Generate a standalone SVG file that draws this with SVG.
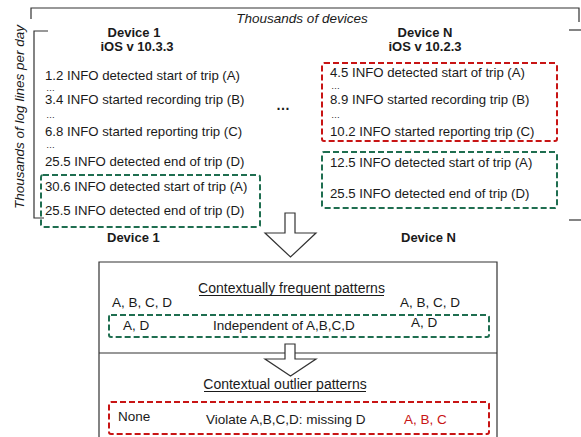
<svg xmlns="http://www.w3.org/2000/svg" width="581" height="437" viewBox="0 0 581 437">
<style>
  text { font-family: "Liberation Sans", Arial, sans-serif; fill: #1a1a1a; }
  .log { font-size: 13.2px; }
  .dots { font-size: 9px; letter-spacing: 1px; }
  .hdr { font-size: 13px; font-weight: bold; }
  .ital { font-size: 13.5px; font-style: italic; }
  .box { font-size: 13.5px; }
  .head { font-size: 14px; }
  .frame { fill: none; stroke: #333; stroke-width: 1.2; }
  .green { fill: none; stroke: #1f6e50; stroke-width: 2; stroke-dasharray: 6 3; }
  .red { fill: none; stroke: #c81414; stroke-width: 2; stroke-dasharray: 6 3; }
  .arrow { fill: #fff; stroke: #333; stroke-width: 1.2; stroke-linejoin: miter; }
  .ul { stroke: #1a1a1a; stroke-width: 1; }
</style>

<g id="frame-axes">
  <path class="frame" d="M31,19 V8 H579 V22"/>
  <path class="frame" d="M48,31 H34 V218 H44"/>
  <path class="frame" d="M569,30 H581"/>
  <path class="frame" d="M569,220 H581"/>
  <text class="ital" x="302" y="23" text-anchor="middle">Thousands of devices</text>
  <text class="ital" text-anchor="middle" transform="translate(24,117) rotate(-90)">Thousands of log lines per day</text>
</g>

<g id="device1-logs">
  <text class="hdr" x="134" y="37" text-anchor="middle">Device 1</text>
  <text class="hdr" x="137" y="51" text-anchor="middle">iOS v 10.3.3</text>
  <text class="log" x="45" y="80">1.2 INFO detected start of trip (A)</text>
  <text class="dots" x="46" y="91">…</text>
  <text class="log" x="45" y="104">3.4 INFO started recording trip (B)</text>
  <text class="dots" x="46" y="118">…</text>
  <text class="log" x="45" y="136">6.8 INFO started reporting trip (C)</text>
  <text class="dots" x="46" y="148">…</text>
  <text class="log" x="45" y="166">25.5 INFO detected end of trip (D)</text>
</g>

<g id="device1-context">
  <rect class="green" x="41" y="175" width="219" height="52" rx="2"/>
  <text class="log" x="45" y="191">30.6 INFO detected start of trip (A)</text>
  <text class="log" x="45" y="215">25.5 INFO detected end of trip (D)</text>
</g>

<g id="between-devices">
  <text x="283" y="110" text-anchor="middle" style="font-size:14px;font-weight:bold">…</text>
</g>

<g id="deviceN-logs">
  <text class="hdr" x="425" y="37" text-anchor="middle">Device N</text>
  <text class="hdr" x="425" y="51" text-anchor="middle">iOS v 10.2.3</text>
  <rect class="red" x="322" y="63" width="235" height="78" rx="2"/>
  <text class="log" x="330" y="77">4.5 INFO detected start of trip (A)</text>
  <text class="dots" x="331" y="89">…</text>
  <text class="log" x="330" y="104">8.9 INFO started recording trip (B)</text>
  <text class="dots" x="331" y="118">…</text>
  <text class="log" x="330" y="136">10.2 INFO started reporting trip (C)</text>
</g>

<g id="deviceN-context">
  <rect class="green" x="322" y="152" width="235" height="56" rx="2"/>
  <text class="log" x="330" y="167">12.5 INFO detected start of trip (A)</text>
  <text class="log" x="330" y="198">25.5 INFO detected end of trip (D)</text>
</g>

<g id="device-labels">
  <text class="hdr" x="107" y="242">Device 1</text>
  <text class="hdr" x="401" y="242">Device N</text>
</g>

<g id="analysis-box">
  <path class="frame" d="M99,437 V262 H497 V437"/>
  <line class="frame" x1="99" y1="353" x2="497" y2="353"/>
</g>

<g id="frequent-patterns">
  <text class="head" x="291.5" y="293" text-anchor="middle">Contextually frequent patterns</text>
  <line class="ul" x1="199" y1="295.5" x2="384" y2="295.5"/>
  <text class="box" x="112" y="307">A, B, C, D</text>
  <text class="box" x="400" y="307">A, B, C, D</text>
  <rect class="green" x="109" y="315" width="380" height="22" rx="2"/>
  <text class="box" x="123" y="330">A, D</text>
  <text class="box" x="213" y="330">Independent of A,B,C,D</text>
  <text class="box" x="411" y="327">A, D</text>
</g>

<g id="outlier-patterns">
  <text class="head" x="285" y="389" text-anchor="middle">Contextual outlier patterns</text>
  <line class="ul" x1="204" y1="391.5" x2="366" y2="391.5"/>
  <rect class="red" x="109" y="402" width="380" height="32" rx="2"/>
  <text class="box" x="118" y="421">None</text>
  <text class="box" x="206" y="424">Violate A,B,C,D: missing D</text>
  <text class="box" x="404" y="424" style="fill:#c81414">A, B, C</text>
</g>

<g id="connectors">
  <polygon class="arrow" points="285,213 295,213 295,233 316,233 290.5,257 265,233 285,233"/>
  <polygon class="arrow" points="285,344 295,344 295,359 316,359 290.5,376 265,359 285,359"/>
</g>
</svg>
